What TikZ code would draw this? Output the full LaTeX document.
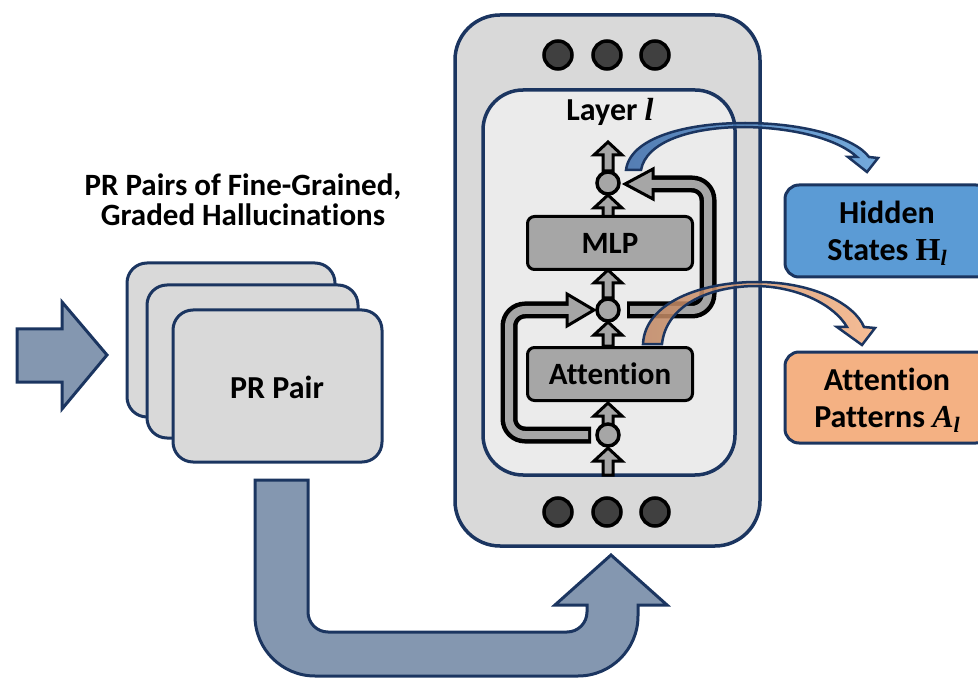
\documentclass[tikz,border=0pt]{standalone}
\usepackage{fontspec}
\setmainfont[Ligatures=NoCommon]{Carlito}
\newfontfamily\symserif{Liberation Serif}
\usetikzlibrary{calc}
\definecolor{navy}{HTML}{1B3560}
\definecolor{flowblue}{HTML}{8497B0}
\definecolor{cardgray}{HTML}{D9D9D9}
\definecolor{layergray}{HTML}{EBEBEB}
\definecolor{blockgray}{HTML}{A6A6A6}
\definecolor{dotgray}{HTML}{404040}
\definecolor{hsblue}{HTML}{5B9BD5}
\definecolor{hsbluedark}{HTML}{3A6BAA}
\definecolor{aporange}{HTML}{F4B183}
\definecolor{aporangedark}{HTML}{C08763}

% vertical block arrow at x=#1 from y=#2 (base) up to y=#3 (tip)
\newcommand{\vflow}[3]{%
  \draw[flowpart] (#1-5,#2) -- (#1-5,#3+13) -- (#1-14,#3+13) -- (#1,#3)
    -- (#1+14,#3+13) -- (#1+5,#3+13) -- (#1+5,#2) -- cycle;}
% serif symbols: bold italic l, bold H, bold italic A
\newcommand{\sym}[1]{{\symserif\bfseries\itshape #1}}
\newcommand{\symup}[1]{{\symserif\bfseries #1}}
\newcommand{\sub}[1]{\raisebox{-0.3ex}{\fontsize{22}{22}\selectfont #1}}

\begin{document}
\begin{tikzpicture}[x=1pt,y=-1pt,
  lbl/.style={font=\fontsize{32}{31}\selectfont\bfseries, align=center, text=black},
  titlelbl/.style={font=\fontsize{31}{30}\selectfont\bfseries, align=center, text=black},
  outlbl/.style={font=\fontsize{32}{37}\selectfont\bfseries, align=center, text=black},
  blocklbl/.style={font=\fontsize{31}{31}\selectfont\bfseries},
  card/.style={draw=navy, line width=3pt, fill=cardgray, rounded corners=20pt},
  bigarrow/.style={draw=navy, line width=3pt, fill=flowblue, line join=miter},
  device/.style={draw=navy, line width=3.5pt, fill=cardgray},
  layerbox/.style={draw=navy, line width=3.5pt, fill=layergray},
  block/.style={draw=black, line width=3pt, fill=blockgray, rounded corners=7pt,
    minimum width=165pt, minimum height=53pt, inner sep=0pt},
  sumnode/.style={circle, draw=black, line width=3.5pt, fill=blockgray,
    minimum size=22pt, inner sep=0pt},
  dotnode/.style={circle, draw=black, line width=3.5pt, fill=dotgray,
    minimum size=28pt, inner sep=0pt},
  flowpart/.style={draw=black, line width=3pt, fill=blockgray, line join=miter},
  pipeout/.style={draw=black, line width=17pt, rounded corners=16pt},
  pipein/.style={draw=blockgray, line width=8pt, rounded corners=16pt},
  outbox/.style={draw=navy, line width=3pt, rounded corners=14pt},
  curvearrow/.style={draw=navy, line width=2.5pt, line join=miter}
]
\useasboundingbox (0,0) rectangle (978,679);
\clip (0,0) rectangle (978,679);

% ---- input arrow ----
\draw[bigarrow] (17,329) -- (62,329) -- (62,302) -- (107,355) -- (62,409)
  -- (62,382) -- (17,382) -- cycle;

% ---- stacked PR pair cards ----
\draw[card] (127,263) rectangle (335,417);
\draw[card] (147,285) rectangle (358,438);
\draw[card] (173,310) rectangle (382,462);
\node[lbl] (pair) at (277,387) {PR Pair};
\node[titlelbl] (title) at (243,200) {PR Pairs of Fine-Grained,\\Graded Hallucinations};

% ---- U-shaped feed arrow into the model ----
\draw[bigarrow] (255,480) -- (255,616) arc[start angle=180,end angle=90,radius=60]
  -- (578,676) arc[start angle=90,end angle=0,radius=60]
  -- (638,605) -- (667,605) -- (611,555) -- (555,605) -- (587,605)
  -- (587,612) arc[start angle=0,end angle=90,radius=20]
  -- (328,632) arc[start angle=90,end angle=180,radius=20]
  -- (308,480) -- cycle;

% ---- model body ----
\draw[device] (455,15) [rounded corners=45pt] rectangle (760,546);
\draw[layerbox] (483,90) [rounded corners=40pt] rectangle (735,475);
\foreach \i/\xx in {1/558,2/607,3/655} {
  \node[dotnode] (top\i) at (\xx,55) {};
  \node[dotnode] (bot\i) at (\xx,512) {};
}
\node[lbl] (layer) at (610,112) {Layer \sym{l}};

% ---- residual pipes ----
\draw[pipeout] (591,435) -- (509,435) -- (509,310) -- (568,310);
\draw[flowpart] (567,294) -- (594,310) -- (567,326) -- cycle;
\draw[pipein] (588,435) -- (509,435) -- (509,310) -- (572,310);

\draw[pipeout] (627,310) -- (708,310) -- (708,184) -- (653,184);
\draw[flowpart] (653,169) -- (625,184) -- (653,199) -- cycle;
\draw[pipein] (630,310) -- (708,310) -- (708,184) -- (649,184);

% ---- main stream arrows ----
\vflow{608}{475}{448}
\vflow{608}{425}{403}
\vflow{608}{346}{322}
\vflow{608}{298}{270}
\vflow{608}{218}{195}
\vflow{608}{171}{142}

% ---- blocks and sum nodes ----
\node[block] (attn) at (610,374) {};
\node[blocklbl] at (attn.center) {Attention};
\node[block] (mlp) at (610,243) {};
\node[blocklbl] at (mlp.center) {MLP};
\node[sumnode] (s1) at (608,435) {};
\node[sumnode] (s2) at (608,310) {};
\node[sumnode] (s3) at (608,183) {};

% ---- output boxes ----
\draw[outbox, fill=hsblue] (785,185) rectangle (990,277);
\node[outlbl] (hs) at (887,233) {Hidden\\States \symup{H}\sub{\sym{l}}};
\draw[outbox, fill=aporange] (785,352) rectangle (990,443);
\node[outlbl] (ap) at (887,400) {Attention\\Patterns \sym{A}\sub{\sym{l}}};

% ---- curved extraction arrows ----
\draw[curvearrow, left color=hsbluedark, right color=hsblue, fill opacity=0.85]
  (626,170) .. controls (630,138) and (685,123) .. (745,123)
  .. controls (805,123) and (855,138) .. (869,157)
  -- (878,158) -- (867,172) -- (848,157) -- (857,157)
  .. controls (840,141) and (800,128) .. (745,127)
  .. controls (690,127) and (646,142) .. (641,170) -- cycle;

\draw[curvearrow, left color=aporangedark, right color=aporange, fill opacity=0.85]
  (643,344) .. controls (645,303) and (700,282) .. (757,282)
  .. controls (815,282) and (855,305) .. (864,327)
  -- (875,328) -- (862,345) -- (837,327) -- (847,327)
  .. controls (835,306) and (800,287) .. (757,286)
  .. controls (708,286) and (666,306) .. (662,344) -- cycle;
\end{tikzpicture}
\end{document}
